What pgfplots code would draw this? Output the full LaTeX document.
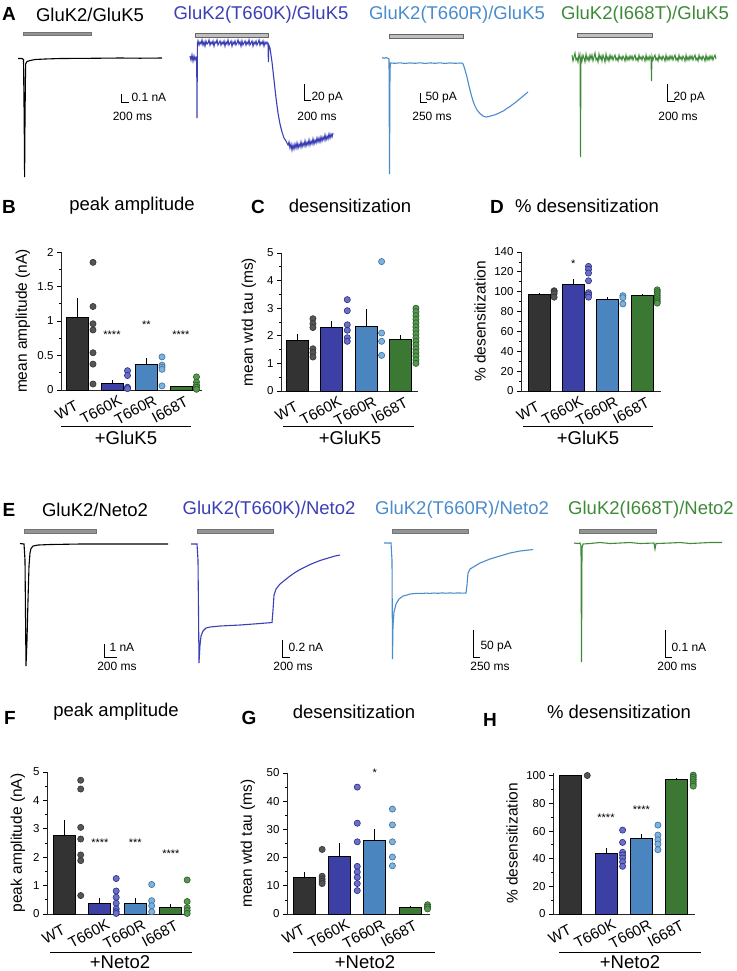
\documentclass[border=0pt]{standalone}
\usepackage{fontspec}
\setmainfont{Liberation Sans}
\usepackage{pgfplots}
\pgfplotsset{compat=1.18}
\definecolor{cWT}{HTML}{333333}
\definecolor{cK}{HTML}{3C3FA3}
\definecolor{cR}{HTML}{4A85BF}
\definecolor{cT}{HTML}{3A7833}
\definecolor{dWT}{HTML}{555555}
\definecolor{dK}{HTML}{6A6FC8}
\definecolor{dR}{HTML}{7DB2DE}
\definecolor{dT}{HTML}{55994F}
\definecolor{oK}{HTML}{2A2D80}
\definecolor{oR}{HTML}{3A6E9E}
\definecolor{oT}{HTML}{2A5A26}
\definecolor{tK}{HTML}{3B3FB5}
\definecolor{tR}{HTML}{4B8CCB}
\definecolor{tT}{HTML}{3E8A38}
\newcommand{\ttl}{\fontsize{18.5}{19}\selectfont}
\newcommand{\lett}{\fontsize{19}{19}\selectfont\bfseries}
\newcommand{\sbf}{\fontsize{12}{12}\selectfont}
\tikzset{stars/.style={font=\fontsize{11}{11}\selectfont}}
\pgfplotsset{
  barax/.style={scale only axis, anchor=south west, clip=false,
    axis lines=left, axis line style={-, line width=0.9pt, black!85},
    xtick={0,1,2,3}, xticklabels={WT,T660K,T660R,I668T},
    x tick style={draw=none},
    xticklabel style={xshift=-11pt, yshift=-16pt, rotate=28, anchor=center, font=\fontsize{15}{15}\selectfont},
    y tick style={black, line width=0.8pt},
    tick align=outside, major tick length=4pt, minor tick length=2pt,
    minor y tick num=1,
    yticklabel style={font=\fontsize{11.5}{12}\selectfont},
    /pgf/number format/assume math mode=true,
    ymin=0,
    label style={font=\fontsize{15.5}{16}\selectfont},
  },
  mybar/.style={ybar, bar width=22pt, bar shift=0pt, draw=black, line width=0.9pt},
  err/.style={black, line width=0.9pt, unbounded coords=jump},
  dots/.style 2 args={only marks, mark=*, mark size=3.1pt, mark options={fill=#1, draw=#2, line width=0.6pt}},
}
\begin{document}
\begin{tikzpicture}
\path[use as bounding box] (0pt,0pt) rectangle (736pt,-971pt);
% ---------------- overlay axis with the traces (pixel frame) ----------------
\begin{axis}[at={(0pt,0pt)}, anchor=north west, scale only axis, width=736pt, height=971pt,
  xmin=0, xmax=736, ymin=0, ymax=971, y dir=reverse, hide axis, clip=false]
% titles row A
\node[font=\lett] at (axis cs:9,14) {A};
\node[font=\ttl] at (axis cs:90,15) {GluK2/GluK5};
\node[font=\ttl, text=tK] at (axis cs:261,15) {GluK2(T660K)/GluK5};
\node[font=\ttl, text=tR] at (axis cs:457,15) {GluK2(T660R)/GluK5};
\node[font=\ttl, text=tT] at (axis cs:645,15) {GluK2(I668T)/GluK5};
% stimulus bars A
\addplot[fill=black!42, draw=black!55, line width=0.5pt] coordinates {(23,32.5)(91,32.5)(91,35.5)(23,35.5)} -- cycle;
\addplot[fill=black!25, draw=black!60, line width=0.7pt] coordinates {(195,33.5)(268,33.5)(268,37)(195,37)} -- cycle;
\addplot[fill=black!25, draw=black!60, line width=0.7pt] coordinates {(389,34.5)(463,34.5)(463,38)(389,38)} -- cycle;
\addplot[fill=black!25, draw=black!60, line width=0.7pt] coordinates {(577,33.5)(652,33.5)(652,37)(577,37)} -- cycle;
% trace A1
\addplot[black, line width=1.1pt] coordinates {(18,58.5)(22,58.5)(23.5,59.5)(24.2,120)(24.6,177)(25,120)(25.6,64)(27,61.5)(30,60.5)(35,59.5)(45,59)(60,58.5)(90,58.3)(120,58)(140,58.2)(162,58)};
% trace A2
\addplot[tK, line width=1.1pt] coordinates {(190,56)(191,60)(192,55)(193,61)(194,56)(195,60)(196,57)(196.7,58)(197,118)(197.4,44)(198,41)(199,45)(200,42)(201,44)(202,40)(203,45)(204,42)(205,46)(206,41)(207,44)(208,43)(209,40)(210,45)(211,42)(212,44)(213,41)(214,46)(215,42)(216,43)(217,40)(218,45)(219,43)(220,41)(221,45)(222,42)(223,44)(224,41)(225,46)(226,42)(227,44)(228,40)(229,45)(230,43)(231,41)(232,46)(233,42)(234,44)(235,41)(236,45)(237,43)(238,40)(239,44)(240,42)(241,46)(242,41)(243,45)(244,43)(245,41)(246,45)(247,42)(248,44)(249,40)(250,45)(251,43)(252,41)(253,46)(254,42)(255,44)(256,41)(257,45)(258,43)(259,40)(260,45)(261,42)(262,44)(263,41)(264,46)(265,42)(266,44)(267,42)(268,44)(268.4,62)(268.8,45)(270,48)(272,62)(274,80)(276,98)(278,113)(280,124)(282,132)(284,138)(286,141)(288,145)(289,142)(290,148)(291,144)(292,150)(293,145)(294,149)(295,144)(296,148)(297,143)(298,148)(299,144)(300,147)(301,142)(302,147)(303,143)(304,146)(305,141)(306,146)(307,142)(308,145)(309,140)(310,145)(311,141)(312,144)(313,139)(314,144)(315,140)(316,143)(317,138)(318,142)(319,138)(320,142)(321,137)(322,141)(323,137)(324,140)(325,135)(326,140)(327,136)(328,139)(329,134)(330,138)(331,134)(332,137)(333,133)};
% trace A3
\addplot[tR, line width=1.1pt] coordinates {(382,57.5)(384,58.3)(386,57.6)(388,58.3)(389,59)(389.5,174)(390,70)(390.5,63)(395,63.3)(400,62.8)(405,63.4)(410,62.9)(415,63.3)(420,62.8)(425,63.4)(430,62.9)(435,63.3)(440,62.8)(445,63.4)(450,62.9)(455,63.3)(460,63)(462.5,63.3)(463.5,65)(465,70)(467,77)(469,86)(471,94)(473,101)(475,106)(477,110)(480,113.5)(483,116)(486,117)(489,116.5)(492,115.5)(495,114.8)(498,113.5)(501,112)(504,110.5)(507,108.3)(510,106.5)(513,104.2)(516,102)(519,99.5)(522,97)(525,94.5)(528,92)};
% trace A4
\addplot[tT, line width=1pt] coordinates {(572,55)(573,61)(574,57)(575,53)(576,60)(577,58)(578,62)(579,54)(580,59)(580.5,157)(581,56)(582,61)(583,55)(584,58)(585,62)(586,54)(587,60)(588,57)(589,61)(590,55)(591,59)(592,55)(593,61)(594,57)(595,53)(596,60)(597,58)(598,62)(599,54)(600,59)(601,56)(602,61)(603,55)(604,58)(605,62)(606,54)(607,60)(608,57)(609,61)(610,55)(611,59)(612,56)(613,60)(614,57)(615,55)(616,60)(617,58)(618,61)(619,55)(620,59)(621,57)(622,60)(623,56)(624,58)(625,61)(626,55)(627,60)(628,57)(629,60)(630,56)(631,59)(632,56)(633,60)(634,57)(635,55)(636,60)(637,58)(638,61)(639,55)(640,59)(641,57)(642,60)(643,56)(644,58)(645,61)(646,55)(647,60)(648,57)(649,60)(650,56)(651,59)(651.5,81)(652,56)(653,60)(654,57)(655,55)(656,60)(657,58)(658,61)(659,55)(660,59)(661,57)(662,60)(663,56)(664,58)(665,61)(666,55)(667,60)(668,57)(669,60)(670,56)(671,59)(672,56)(673,60)(674,57)(675,55)(676,60)(677,58)(678,61)(679,55)(680,59)(681,57)(682,60)(683,56)(684,58)(685,61)(686,55)(687,60)(688,57)(689,60)(690,56)(691,59)(692,56)(693,60)(694,57)(695,55)(696,60)(697,58)(698,61)(699,55)(700,59)(701,57)(702,60)(703,56)(704,58)(705,61)(706,55)(707,60)(708,57)(709,60)(710,56)(711,59)(712,56)(713,60)(714,57)(715,55)(716,59)};
% scale bars A
\addplot[black, line width=0.8pt] coordinates {(121,94)(121,102)(129,102)};
\node[font=\sbf, anchor=west] at (axis cs:128,97.5) {0.1 nA};
\node[font=\sbf] at (axis cs:132.5,116) {200 ms};
\addplot[black, line width=0.8pt] coordinates {(304,84)(304,100)(311,100)};
\node[font=\sbf, anchor=west] at (axis cs:308,97.5) {20 pA};
\node[font=\sbf] at (axis cs:317,116) {200 ms};
\addplot[black, line width=0.8pt] coordinates {(420,93)(420,102)(427,102)};
\node[font=\sbf, anchor=west] at (axis cs:422,97.5) {50 pA};
\node[font=\sbf] at (axis cs:432,116) {250 ms};
\addplot[black, line width=0.8pt] coordinates {(667,84)(667,101)(675,101)};
\node[font=\sbf, anchor=west] at (axis cs:670,97.5) {20 pA};
\node[font=\sbf] at (axis cs:678,116) {200 ms};
% titles row E
\node[font=\lett] at (axis cs:9,510) {E};
\node[font=\ttl] at (axis cs:95,510) {GluK2/Neto2};
\node[font=\ttl, text=tK] at (axis cs:269,510) {GluK2(T660K)/Neto2};
\node[font=\ttl, text=tR] at (axis cs:462,510) {GluK2(T660R)/Neto2};
\node[font=\ttl, text=tT] at (axis cs:651,510) {GluK2(I668T)/Neto2};
% stimulus bars E
\addplot[fill=black!42, draw=black!55, line width=0.5pt] coordinates {(24,529.5)(96,529.5)(96,533)(24,533)} -- cycle;
\addplot[fill=black!42, draw=black!55, line width=0.5pt] coordinates {(197,529.5)(273,529.5)(273,533)(197,533)} -- cycle;
\addplot[fill=black!42, draw=black!55, line width=0.5pt] coordinates {(392,529.5)(468,529.5)(468,533)(392,533)} -- cycle;
\addplot[fill=black!42, draw=black!55, line width=0.5pt] coordinates {(579,529.5)(656,529.5)(656,533)(579,533)} -- cycle;
% trace E1
\addplot[black, line width=1.1pt] coordinates {(20,543.5)(24,544)(25,560)(26,666)(27,640)(28,600)(29,566)(30,553)(31,548.5)(33,546)(38,545)(50,544.5)(80,544)(168,544)};
% trace E2
\addplot[tK, line width=1.1pt] coordinates {(191,544)(197,544)(198,560)(199,663)(200,645)(201,636)(203,631)(206,628)(210,627)(220,626)(240,625)(260,623.5)(272,622.5)(273,610)(274,595)(276,589)(280,584)(285,580)(290,576)(295,572.5)(300,569.5)(305,567)(310,564.5)(315,562.5)(320,560.5)(325,559)(330,557.5)(335,556)(340,555)};
% trace E3
\addplot[tR, line width=1.1pt] coordinates {(384,543)(391,543)(392,560)(392.5,659)(393,625)(394,612)(396,604)(399,599)(403,596)(407,595)(410,594)(414,593.6)(418,593.3)(422,593.5)(426,593.1)(430,593.4)(434,593)(438,593.3)(442,592.9)(446,593.2)(450,592.9)(454,593.2)(458,592.9)(462,593.1)(466,593)(467,585)(468,573)(470,569)(475,566)(480,563)(485,561)(490,559)(495,557.5)(500,556)(505,554.5)(510,553)(515,552)(520,551)(526,550.3)(533,549.5)};
% trace E4
\addplot[tT, line width=1.1pt] coordinates {(574,543)(578,543.5)(580,543)(581,546)(581.5,662)(582,548)(583,544)(590,543.5)(600,542.5)(610,543.5)(620,543)(630,542.5)(640,543.5)(654,543)(655,549)(656,543.5)(670,543)(680,542.5)(690,543.5)(700,543)(710,542.5)(722,542.5)};
% scale bars E
\addplot[black, line width=0.8pt] coordinates {(104,644)(104,657)(117,657)};
\node[font=\sbf, anchor=west] at (axis cs:106,647) {1 nA};
\node[font=\sbf] at (axis cs:117,666) {200 ms};
\addplot[black, line width=0.8pt] coordinates {(282,640)(282,657)(290,657)};
\node[font=\sbf, anchor=west] at (axis cs:285,647) {0.2 nA};
\node[font=\sbf] at (axis cs:293,666) {200 ms};
\addplot[black, line width=0.8pt] coordinates {(473,630)(473,657)(480,657)};
\node[font=\sbf, anchor=west] at (axis cs:477,647) {50 pA};
\node[font=\sbf] at (axis cs:490,666) {250 ms};
\addplot[black, line width=0.8pt] coordinates {(665,630)(665,657)(672,657)};
\node[font=\sbf, anchor=west] at (axis cs:668,647) {0.1 nA};
\node[font=\sbf] at (axis cs:677,666) {200 ms};
% panel letters and titles of bar panels
\node[font=\lett] at (axis cs:9,207) {B};
\node[font=\ttl] at (axis cs:132,206) {peak amplitude};
\node[font=\lett] at (axis cs:258,207) {C};
\node[font=\ttl] at (axis cs:350,206) {desensitization};
\node[font=\lett] at (axis cs:497,207) {D};
\node[font=\ttl] at (axis cs:587,206) {\% desensitization};
\node[font=\lett] at (axis cs:10,718) {F};
\node[font=\ttl] at (axis cs:116,712) {peak amplitude};
\node[font=\lett] at (axis cs:249,718) {G};
\node[font=\ttl] at (axis cs:354,712) {desensitization};
\node[font=\lett] at (axis cs:490,720) {H};
\node[font=\ttl] at (axis cs:619,712) {\% desensitization};
% group underlines
\addplot[black, line width=0.9pt] coordinates {(61,426)(191,426)};
\node[font=\ttl] at (axis cs:126,437.5) {+GluK5};
\addplot[black, line width=0.9pt] coordinates {(283,426)(414,426)};
\node[font=\ttl] at (axis cs:350,437.5) {+GluK5};
\addplot[black, line width=0.9pt] coordinates {(523,426)(653,426)};
\node[font=\ttl] at (axis cs:588,437.5) {+GluK5};
\addplot[black, line width=0.9pt] coordinates {(50,952)(192,952)};
\node[font=\ttl] at (axis cs:120,962) {+Neto2};
\addplot[black, line width=0.9pt] coordinates {(293,952)(435,952)};
\node[font=\ttl] at (axis cs:365,962) {+Neto2};
\addplot[black, line width=0.9pt] coordinates {(559,952)(701,952)};
\node[font=\ttl] at (axis cs:630,962) {+Neto2};
\end{axis}
% ---------------- B ----------------
\begin{axis}[barax, at={(61pt,-390pt)}, width=141pt, height=138pt,
  xmin=-0.478, xmax=3.61, ymax=2, ytick={0,0.5,1,1.5,2}, yticklabels={0,0.5,1,1.5,2},
  ylabel={mean amplitude (nA)}, ylabel style={at={(axis description cs:-0.27,0.5)}, anchor=center}]
\addplot[mybar, fill=cWT] coordinates {(0,1.05)};
\addplot[mybar, fill=cK] coordinates {(1,0.097)};
\addplot[mybar, fill=cR] coordinates {(2,0.365)};
\addplot[mybar, fill=cT] coordinates {(3,0.045)};
\addplot[err] coordinates {(0,1.05)(0,1.33) (nan,nan) (1,0.097)(1,0.15) (nan,nan) (2,0.365)(2,0.46) (nan,nan) (3,0.045)(3,0.065)};
\addplot[dots={dWT}{black!80}] coordinates {(0.45,1.85)(0.45,1.21)(0.45,0.96)(0.45,0.87)(0.45,0.54)(0.45,0.375)(0.45,0.087)};
\addplot[dots={dK}{oK}] coordinates {(1.45,0.28)(1.45,0.21)(1.45,0.04)(1.45,0.02)};
\addplot[dots={dR}{oR}] coordinates {(2.45,0.48)(2.45,0.36)(2.45,0.33)(2.45,0.30)(2.45,0.06)};
\addplot[dots={dT}{oT}] coordinates {(3.45,0.19)(3.45,0.115)(3.45,0.07)(3.45,0.04)(3.45,0.01)};
\node[stars] at (axis cs:1,0.8) {****};
\node[stars] at (axis cs:2,0.95) {**};
\node[stars] at (axis cs:3,0.8) {****};
\end{axis}
% ---------------- C ----------------
\begin{axis}[barax, at={(281pt,-391pt)}, width=137pt, height=138pt,
  xmin=-0.48, xmax=3.51, ymax=5, ytick={0,1,2,3,4,5},
  ylabel={mean wtd tau (ms)}, ylabel style={at={(axis description cs:-0.234,0.5)}, anchor=center}]
\addplot[mybar, fill=cWT] coordinates {(0,1.84)};
\addplot[mybar, fill=cK] coordinates {(1,2.31)};
\addplot[mybar, fill=cR] coordinates {(2,2.33)};
\addplot[mybar, fill=cT] coordinates {(3,1.86)};
\addplot[err] coordinates {(0,1.84)(0,2.08) (nan,nan) (1,2.31)(1,2.52) (nan,nan) (2,2.33)(2,2.96) (nan,nan) (3,1.86)(3,2.04)};
\addplot[dots={dWT}{black!80}] coordinates {(0.45,2.62)(0.45,2.44)(0.45,2.3)(0.45,1.53)(0.45,1.39)(0.45,1.23)};
\addplot[dots={dK}{oK}] coordinates {(1.45,3.31)(1.45,2.91)(1.45,2.4)(1.45,2.2)(1.45,1.93)(1.45,1.8)};
\addplot[dots={dR}{oR}] coordinates {(2.45,4.69)(2.45,2.1)(2.45,1.8)(2.45,1.29)};
\addplot[dots={dT}{oT}] coordinates {(3.45,3.0)(3.45,2.87)(3.45,2.73)(3.45,2.6)(3.45,2.47)(3.45,2.33)(3.45,2.2)(3.45,2.07)(3.45,1.93)(3.45,1.8)(3.45,1.67)(3.45,1.53)(3.45,1.4)(3.45,1.27)(3.45,1.13)(3.45,1.0)};
\end{axis}
% ---------------- D ----------------
\begin{axis}[barax, at={(521pt,-391pt)}, width=140pt, height=139pt,
  xmin=-0.524, xmax=3.55, ymax=140, ytick={0,20,...,140},
  ylabel={\% desensitization}, ylabel style={at={(axis description cs:-0.293,0.5)}, anchor=center}]
\addplot[mybar, fill=cWT] coordinates {(0,97.5)};
\addplot[mybar, fill=cK] coordinates {(1,107.6)};
\addplot[mybar, fill=cR] coordinates {(2,92.4)};
\addplot[mybar, fill=cT] coordinates {(3,96.2)};
\addplot[err] coordinates {(0,97.5)(0,98.3) (nan,nan) (1,107.6)(1,112.5) (nan,nan) (2,92.4)(2,94.5) (nan,nan) (3,96.2)(3,97.6)};
\addplot[dots={dWT}{black!80}] coordinates {(0.44,101)(0.44,100)(0.44,98)(0.44,94.5)};
\addplot[dots={dK}{oK}] coordinates {(1.44,125.5)(1.44,122.5)(1.44,118.8)(1.44,111)(1.44,99)(1.44,97)(1.44,94.5)};
\addplot[dots={dR}{oR}] coordinates {(2.44,96)(2.44,94)(2.44,87.7)};
\addplot[dots={dT}{oT}] coordinates {(3.44,101.9)(3.44,100)(3.44,98)(3.44,96)(3.44,94)(3.44,92)(3.44,90)(3.44,88.5)};
\node[stars] at (axis cs:1,128) {*};
\end{axis}
% ---------------- F ----------------
\begin{axis}[barax, at={(47pt,-914pt)}, width=143pt, height=142pt,
  xmin=-0.49, xmax=3.54, ymax=5, ytick={0,1,2,3,4,5},
  ylabel={peak amplitude (nA)}, ylabel style={at={(axis description cs:-0.203,0.5)}, anchor=center}]
\addplot[mybar, fill=cWT] coordinates {(0,2.75)};
\addplot[mybar, fill=cK] coordinates {(1,0.376)};
\addplot[mybar, fill=cR] coordinates {(2,0.376)};
\addplot[mybar, fill=cT] coordinates {(3,0.22)};
\addplot[err] coordinates {(0,2.75)(0,3.32) (nan,nan) (1,0.376)(1,0.58) (nan,nan) (2,0.376)(2,0.58) (nan,nan) (3,0.22)(3,0.34)};
\addplot[dots={dWT}{black!80}] coordinates {(0.46,4.71)(0.46,4.4)(0.46,3.05)(0.46,2.64)(0.46,2.08)(0.46,1.88)(0.46,0.65)};
\addplot[dots={dK}{oK}] coordinates {(1.46,1.25)(1.46,0.81)(1.46,0.59)(1.46,0.38)(1.46,0.18)(1.46,0.08)(1.46,0.02)};
\addplot[dots={dR}{oR}] coordinates {(2.46,1.04)(2.46,0.47)(2.46,0.29)(2.46,0.08)};
\addplot[dots={dT}{oT}] coordinates {(3.46,1.2)(3.46,0.44)(3.46,0.22)(3.46,0.12)(3.46,0.02)};
\node[stars] at (axis cs:1,2.5) {****};
\node[stars] at (axis cs:2,2.5) {***};
\node[stars] at (axis cs:3,2.13) {****};
\end{axis}
% ---------------- G ----------------
\begin{axis}[barax, at={(287pt,-914pt)}, width=143pt, height=141pt,
  xmin=-0.5, xmax=3.57, ymax=50, ytick={0,10,...,50},
  ylabel={mean wtd tau (ms)}, ylabel style={at={(axis description cs:-0.273,0.5)}, anchor=center}]
\addplot[mybar, fill=cWT] coordinates {(0,13)};
\addplot[mybar, fill=cK] coordinates {(1,20.4)};
\addplot[mybar, fill=cR] coordinates {(2,26.1)};
\addplot[mybar, fill=cT] coordinates {(3,2.4)};
\addplot[err] coordinates {(0,13)(0,14.9) (nan,nan) (1,20.4)(1,25.2) (nan,nan) (2,26.1)(2,30.1) (nan,nan) (3,2.4)(3,2.7)};
\addplot[dots={dWT}{black!80}] coordinates {(0.5,22.9)(0.5,13.4)(0.5,12.4)(0.5,11.6)(0.5,10.8)};
\addplot[dots={dK}{oK}] coordinates {(1.5,45)(1.5,32.2)(1.5,25.6)(1.5,16.9)(1.5,14.9)(1.5,13)(1.5,10.8)(1.5,8.3)};
\addplot[dots={dR}{oR}] coordinates {(2.5,37.2)(2.5,31.6)(2.5,25.6)(2.5,20.2)(2.5,17.1)};
\addplot[dots={dT}{oT}] coordinates {(3.5,3.3)(3.5,2.5)(3.5,1.8)};
\node[stars] at (axis cs:2,50) {*};
\end{axis}
% ---------------- H ----------------
\begin{axis}[barax, at={(553pt,-914pt)}, width=142pt, height=141pt,
  xmin=-0.5, xmax=3.52, ymax=102, ytick={0,20,...,100},
  ylabel={\% desensitization}, ylabel style={at={(axis description cs:-0.289,0.5)}, anchor=center}]
\addplot[mybar, fill=cWT] coordinates {(0,100)};
\addplot[mybar, fill=cK] coordinates {(1,44.1)};
\addplot[mybar, fill=cR] coordinates {(2,54.7)};
\addplot[mybar, fill=cT] coordinates {(3,97.6)};
\addplot[err] coordinates {(1,44.1)(1,47.5) (nan,nan) (2,54.7)(2,58.1) (nan,nan) (3,97.6)(3,98.3)};
\addplot[dots={dWT}{black!80}] coordinates {(0.47,100.2)};
\addplot[dots={dK}{oK}] coordinates {(1.47,60.7)(1.47,51.8)(1.47,44.6)(1.47,42.7)(1.47,40.5)(1.47,37.8)(1.47,34.5)};
\addplot[dots={dR}{oR}] coordinates {(2.47,64.3)(2.47,57.1)(2.47,53.7)(2.47,50.6)(2.47,46.5)};
\addplot[dots={dT}{oT}] coordinates {(3.47,100.5)(3.47,99)(3.47,97.3)(3.47,95.7)(3.47,94)(3.47,92.5)};
\node[stars] at (axis cs:1,70) {****};
\node[stars] at (axis cs:2,75.5) {****};
\end{axis}
\end{tikzpicture}
\end{document}
